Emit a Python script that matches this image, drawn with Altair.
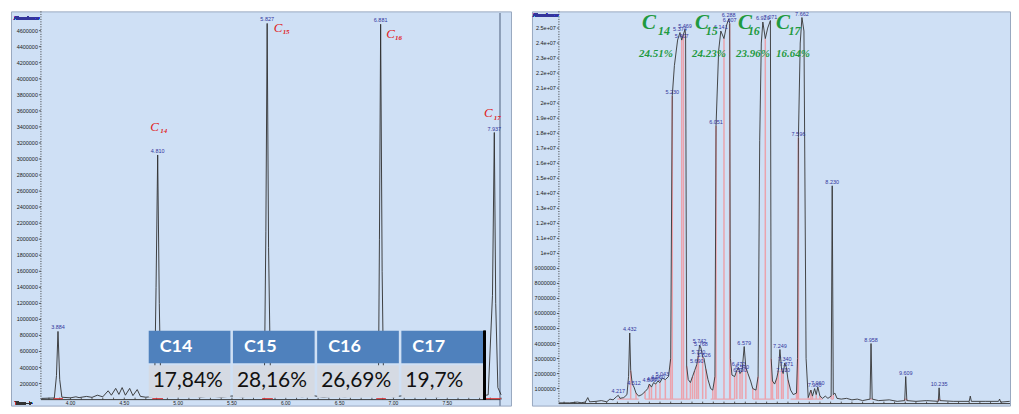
import altair as alt
import pandas as pd

# ======================= LEFT chromatogram =======================
left_time = [3.73, 3.85, 3.87, 3.884, 3.90, 3.92, 4.00, 4.05, 4.08, 4.15, 4.20, 4.25, 4.30,
             4.35, 4.38, 4.42, 4.45, 4.48, 4.51, 4.55, 4.58, 4.62, 4.65, 4.70, 4.78, 4.795,
             4.810, 4.825, 4.84, 4.90, 4.95, 5.00, 5.05, 5.10, 5.15, 5.20, 5.30, 5.40, 5.50,
             5.60, 5.70, 5.80, 5.815, 5.827, 5.84, 5.86, 5.95, 6.05, 6.15, 6.25, 6.35, 6.45,
             6.55, 6.65, 6.75, 6.86, 6.87, 6.881, 6.895, 6.91, 7.00, 7.10, 7.20, 7.30, 7.40,
             7.50, 7.60, 7.70, 7.80, 7.88, 7.92, 7.937, 7.95, 7.97, 8.00]
left_abund = [15000, 20000, 300000, 850000, 250000, 30000, 22000, 35000, 25000, 40000, 28000,
              55000, 35000, 110000, 55000, 140000, 65000, 150000, 55000, 140000, 50000, 125000,
              40000, 30000, 40000, 1400000, 3050000, 1200000, 60000, 40000, 55000, 35000, 50000,
              40000, 55000, 30000, 45000, 30000, 45000, 35000, 50000, 60000, 2100000, 4690000,
              1900000, 60000, 40000, 55000, 35000, 50000, 30000, 45000, 35000, 50000, 40000,
              60000, 2000000, 4680000, 1600000, 50000, 35000, 50000, 40000, 55000, 35000, 45000,
              40000, 50000, 40000, 60000, 1300000, 3330000, 1200000, 150000, 60000]
left_peak_times = [3.884, 4.810, 5.827, 6.881, 7.937]
left_comp_peaks = [4.810, 5.827, 6.881, 7.937]
left_comp_sub = ["14", "15", "16", "17"]
left_red_start = [3.84, 4.76, 5.78, 6.84, 7.86]
left_red_end = [3.93, 4.86, 5.88, 6.93, 8.00]
left_red_level = 12000
left_yticks = list(range(200000, 4600001, 200000))
left_xticks = [round(3.8 + 0.1 * i, 1) for i in range(43)]
left_xlabels = [4.0, 4.5, 5.0, 5.5, 6.0, 6.5, 7.0, 7.5]

table_head = ["C14", "C15", "C16", "C17"]
table_pct = ["17,84%", "28,16%", "26,69%", "19,7%"]

# ======================= RIGHT chromatogram =======================
right_time = [3.10, 3.30, 3.45, 3.52, 3.60, 3.645, 3.68, 3.80, 3.90, 4.00, 4.06, 4.12, 4.18,
              4.217, 4.25, 4.32, 4.38, 4.41, 4.432, 4.45, 4.48, 4.512, 4.55, 4.60, 4.66, 4.72,
              4.77, 4.80, 4.84, 4.88, 4.92, 4.96, 5.00, 5.043, 5.10, 5.16, 5.20, 5.23, 5.27,
              5.33, 5.374, 5.407, 5.44, 5.469, 5.48, 5.50, 5.53, 5.57, 5.61, 5.65, 5.69, 5.72,
              5.742, 5.768, 5.80, 5.826, 5.86, 5.90, 5.95, 5.99, 6.03, 6.051, 6.10, 6.141, 6.20,
              6.25, 6.288, 6.307, 6.32, 6.35, 6.40, 6.44, 6.472, 6.50, 6.54, 6.579, 6.61, 6.65,
              6.70, 6.74, 6.80, 6.84, 6.87, 6.90, 6.929, 6.975, 7.02, 7.071, 7.085, 7.11, 7.15,
              7.19, 7.22, 7.249, 7.28, 7.31, 7.340, 7.371, 7.40, 7.45, 7.50, 7.56, 7.58, 7.596,
              7.63, 7.662, 7.70, 7.74, 7.78, 7.83, 7.86, 7.90, 7.93, 7.96, 8.00, 8.05, 8.10,
              8.15, 8.21, 8.230, 8.25, 8.28, 8.32, 8.40, 8.50, 8.60, 8.70, 8.80, 8.94, 8.958,
              8.98, 9.10, 9.30, 9.45, 9.59, 9.609, 9.63, 9.80, 10.00, 10.22, 10.235, 10.25,
              10.50, 10.80, 10.82, 10.84, 11.10, 11.35, 11.37, 11.39, 11.56]
right_abund_millions = [0.05, 0.05, 0.10, 0.06, 0.10, 0.40, 0.12, 0.15, 0.20, 0.12, 0.30, 0.25,
                        0.45, 0.55, 0.35, 0.40, 0.60, 1.8, 4.7, 2.2, 1.3, 1.1, 0.7, 0.5, 0.6, 0.8,
                        1.0, 1.3, 1.1, 1.4, 1.3, 1.5, 1.4, 1.7, 1.6, 1.8, 3.0, 20.5, 22.5, 24.2,
                        24.7, 24.2, 24.6, 24.9, 24.5, 2.5, 1.6, 1.4, 1.8, 2.2, 2.6, 3.2, 3.9, 3.7,
                        3.1, 3.0, 2.3, 1.6, 1.0, 0.9, 1.8, 18.5, 23.5, 24.8, 24.3, 25.2, 25.6,
                        25.3, 3.0, 1.9, 1.8, 2.2, 2.4, 2.0, 2.2, 3.8, 2.4, 2.0, 1.5, 1.0, 0.9,
                        1.8, 17.5, 24.0, 25.4, 24.3, 25.0, 25.5, 3.0, 1.5, 1.3, 1.7, 2.2, 3.6,
                        2.3, 2.0, 2.7, 2.4, 1.6, 0.9, 0.6, 0.7, 3.0, 17.7, 24.0, 25.7, 24.8, 3.0,
                        0.4, 0.9, 0.5, 1.0, 0.6, 1.1, 0.5, 0.35, 0.5, 0.35, 0.5, 14.5, 0.6, 0.7,
                        0.35, 0.30, 0.35, 0.25, 0.30, 0.20, 0.30, 4.0, 0.30, 0.20, 0.25, 0.15,
                        0.20, 1.8, 0.20, 0.15, 0.20, 0.15, 1.05, 0.20, 0.15, 0.15, 0.50, 0.15,
                        0.15, 0.15, 0.30, 0.10, 0.15]
right_label_times = [4.217, 4.432, 4.512, 4.80, 4.88, 4.96, 5.043, 5.23, 5.374, 5.407, 5.469,
                     5.69, 5.72, 5.742, 5.768, 5.826, 6.051, 6.141, 6.288, 6.307, 6.472, 6.50,
                     6.54, 6.579, 6.929, 7.071, 7.249, 7.31, 7.340, 7.371, 7.596, 7.662, 7.90,
                     7.96, 8.230, 8.958, 9.609, 10.235]
right_pink_times = [4.25, 4.45, 4.55, 4.72, 4.80, 4.84, 4.92, 5.00, 5.10, 5.20, 5.23, 5.407,
                    5.44, 5.50, 5.57, 5.61, 5.65, 5.69, 5.72, 5.80, 5.86, 5.99, 6.03, 6.051,
                    6.20, 6.307, 6.32, 6.40, 6.44, 6.50, 6.54, 6.61, 6.74, 6.80, 6.84, 6.975,
                    7.085, 7.11, 7.19, 7.22, 7.28, 7.31, 7.40, 7.56, 7.58, 7.596, 7.78, 7.83,
                    7.86, 7.93, 8.00, 8.21, 8.25, 8.94, 8.98, 9.59, 9.63, 10.22, 10.25]
right_base_start = [4.20, 4.72, 5.16, 5.95, 6.74, 7.45, 7.78, 8.21, 8.94, 9.59, 10.22]
right_base_end = [4.60, 5.16, 5.57, 6.40, 7.15, 7.86, 8.05, 8.25, 8.98, 9.63, 10.25]
right_base_level = 300000
right_group_anchor = [5.374, 6.141, 6.929, 7.662]
right_group_sub = ["14", "15", "16", "17"]
right_group_pct = ["24.51%", "24.23%", "23.96%", "16.64%"]
right_yticks = [i * 1000000 for i in range(1, 26)]
right_xticks = [round(3.2 + 0.2 * i, 1) for i in range(42)]

assert len(left_time) == len(left_abund)
assert len(right_time) == len(right_abund_millions)

# ----------------------------------------------------------------
dfL = pd.DataFrame({"t": left_time, "v": left_abund})
Lmap = dict(zip(left_time, left_abund))
dfL_lab = pd.DataFrame({"t": left_peak_times, "v": [Lmap[t] for t in left_peak_times],
                        "txt": [f"{t:.3f}" for t in left_peak_times]})
dfL_red = pd.DataFrame({"s": left_red_start, "e": left_red_end, "v": left_red_level})

right_abund = [v * 1e6 for v in right_abund_millions]
dfR = pd.DataFrame({"t": right_time, "v": right_abund})
Rmap = dict(zip(right_time, right_abund))
dfR_lab = pd.DataFrame({"t": right_label_times, "v": [Rmap[t] for t in right_label_times],
                        "txt": [f"{t:.3f}" for t in right_label_times]})
dfR_pink = pd.DataFrame({"t": right_pink_times, "v": [Rmap[t] for t in right_pink_times],
                         "b": right_base_level})
dfR_base = pd.DataFrame({"s": right_base_start, "e": right_base_end, "v": right_base_level})

LW, LH = 501, 395
RW, RH = 479, 395
LX = alt.Scale(domain=[3.4475, 8.092], nice=False, zero=False)
LY = alt.Scale(domain=[-74650, 4840000], nice=False, zero=False)
RX = alt.Scale(domain=[2.598, 11.565], nice=False, zero=False)
RY = alt.Scale(domain=[-133000, 26109000], nice=False, zero=False)

BLUE = "#34369c"
RED = "#e0201c"
GREEN = "#1f9a3f"
AXC = "#3a3a3a"
TICKFONT = "Liberation Sans"


def sci(v):
    if v >= 10000000:
        return f"{v / 10000000:g}e+07"
    return str(v)


def axes_layers(xs, ys, xticks, yticks, ylabels, xlabels, ax_x, ax_y, x_end, y_top):
    """Axis lines, ticks and labels drawn through the panel's own scales."""
    out = []
    dummy = pd.DataFrame({"a": [0]})
    out.append(alt.Chart(dummy).mark_rule(color=AXC, strokeWidth=1, strokeDash=[1, 1.5]).encode(
        x=alt.value(ax_x), y=alt.value(y_top), y2=alt.value(ax_y)))
    out.append(alt.Chart(dummy).mark_rule(color=AXC, strokeWidth=1).encode(
        x=alt.value(ax_x), x2=alt.value(x_end), y=alt.value(ax_y)))
    dyt = pd.DataFrame({"v": yticks, "lab": ylabels})
    out.append(alt.Chart(dyt).mark_rule(color=AXC, strokeWidth=0.8).encode(
        x=alt.value(ax_x - 2), x2=alt.value(ax_x),
        y=alt.Y("v:Q", scale=ys, axis=None)))
    out.append(alt.Chart(dyt).mark_text(align="right", baseline="middle", fontSize=5.5,
                                        font=TICKFONT, color="#222222").encode(
        x=alt.value(ax_x - 3), y=alt.Y("v:Q", scale=ys, axis=None), text="lab:N"))
    dxt = pd.DataFrame({"t": xticks})
    out.append(alt.Chart(dxt).mark_rule(color=AXC, strokeWidth=0.8).encode(
        x=alt.X("t:Q", scale=xs, axis=None), y=alt.value(ax_y - 2), y2=alt.value(ax_y)))
    if xlabels:
        dxl = pd.DataFrame({"t": xlabels, "lab": [f"{t:.2f}" for t in xlabels]})
        out.append(alt.Chart(dxl).mark_text(align="center", baseline="top", fontSize=5,
                                            font=TICKFONT, color="#222222").encode(
            x=alt.X("t:Q", scale=xs, axis=None), y=alt.value(ax_y + 1), text="lab:N"))
    return out


# ---------------- left panel ----------------
trace_L = alt.Chart(dfL).mark_line(color="#2e2e2e", strokeWidth=0.9).encode(
    x=alt.X("t:Q", scale=LX, axis=None),
    y=alt.Y("v:Q", scale=LY, axis=None))
red_L = alt.Chart(dfL_red).mark_rule(color="#e03030", strokeWidth=1).encode(
    x=alt.X("s:Q", scale=LX, axis=None), x2="e:Q",
    y=alt.Y("v:Q", scale=LY, axis=None))
lab_L = alt.Chart(dfL_lab).mark_text(fontSize=5.5, color=BLUE, dy=-2, baseline="alphabetic",
                                      font=TICKFONT).encode(
    x=alt.X("t:Q", scale=LX, axis=None), y=alt.Y("v:Q", scale=LY, axis=None), text="txt:N")

left_layers = [alt.Chart(dfL).mark_rule(color="#8e9fb8", strokeWidth=1).encode(
    x=alt.value(490), y=alt.value(2), y2=alt.value(395))]
left_layers += axes_layers(LX, LY, left_xticks, left_yticks, [str(v) for v in left_yticks],
                           left_xlabels, 30, 389, 490, 0)
left_layers += [red_L, trace_L, lab_L]
c_off = [(-3, -28), (11, 5), (10, 10), (-6, -20)]
s_off = [(6, -24), (19, 9), (18, 14), (3, -15)]
for i, (t, sub) in enumerate(zip(left_comp_peaks, left_comp_sub)):
    d = pd.DataFrame({"t": [t], "v": [Lmap[t]], "c": ["C"], "s": [sub]})
    left_layers.append(alt.Chart(d).mark_text(
        font="Liberation Serif", fontStyle="italic", fontSize=13, color=RED,
        dx=c_off[i][0], dy=c_off[i][1], baseline="middle", align="center").encode(
        x=alt.X("t:Q", scale=LX, axis=None), y=alt.Y("v:Q", scale=LY, axis=None), text="c:N"))
    left_layers.append(alt.Chart(d).mark_text(
        font="Liberation Serif", fontStyle="italic", fontWeight="bold", fontSize=7, color=RED,
        dx=s_off[i][0], dy=s_off[i][1], baseline="middle", align="center").encode(
        x=alt.X("t:Q", scale=LX, axis=None), y=alt.Y("v:Q", scale=LY, axis=None), text="s:N"))

left_layers.append(alt.Chart(dfL).mark_text(text="Abundance", fontSize=5, color=BLUE,
                                            align="left", baseline="middle",
                                            font=TICKFONT).encode(
    x=alt.value(3), y=alt.value(7)))
left_layers.append(alt.Chart(dfL).mark_text(text="Time-->", fontSize=5, color="#333",
                                            align="left", baseline="middle",
                                            font=TICKFONT).encode(
    x=alt.value(4), y=alt.value(392)))
main_L = alt.layer(*left_layers)

# table overlay
TX = alt.Scale(domain=table_head, range=[138, 473], paddingInner=0.03, paddingOuter=0)
TY = alt.Scale(domain=["h", "b"], range=[320, 387], paddingInner=0.06, paddingOuter=0)
df_head = pd.DataFrame({"comp": table_head, "row": "h", "txt": table_head})
df_body = pd.DataFrame({"comp": table_head, "row": "b", "txt": table_pct})
head_rect = alt.Chart(df_head).mark_rect(color="#4f81bd").encode(
    x=alt.X("comp:N", scale=TX, axis=None), y=alt.Y("row:N", scale=TY, axis=None))
body_rect = alt.Chart(df_body).mark_rect(color="#d5dae3").encode(
    x=alt.X("comp:N", scale=TX, axis=None), y=alt.Y("row:N", scale=TY, axis=None))
head_txt = alt.Chart(df_head).mark_text(align="left", baseline="middle", dx=11, font="Lato",
                                        fontWeight="bold", fontSize=18, color="white").encode(
    x=alt.X("comp:N", scale=TX, axis=None, bandPosition=0),
    y=alt.Y("row:N", scale=TY, axis=None), text="txt:N")
body_txt = alt.Chart(df_body).mark_text(align="left", baseline="middle", dx=4, font="Lato",
                                        fontSize=21, color="#111111").encode(
    x=alt.X("comp:N", scale=TX, axis=None, bandPosition=0),
    y=alt.Y("row:N", scale=TY, axis=None), text="txt:N")
bar = alt.Chart(df_head).mark_rule(color="black", strokeWidth=2.5).encode(
    x=alt.value(474.5), y=alt.value(320), y2=alt.value(389))
table = alt.layer(head_rect, body_rect, head_txt, body_txt, bar)

left = alt.layer(main_L, table).resolve_scale(x="independent", y="independent").properties(
    width=LW, height=LH)

# ---------------- right panel ----------------
pink_drop = alt.Chart(dfR_pink).mark_rule(color="#eba3ad", strokeWidth=1.5).encode(
    x=alt.X("t:Q", scale=RX, axis=None), y=alt.Y("v:Q", scale=RY, axis=None), y2="b:Q")
pink_base = alt.Chart(dfR_base).mark_rule(color="#eba3ad", strokeWidth=1.2).encode(
    x=alt.X("s:Q", scale=RX, axis=None), x2="e:Q", y=alt.Y("v:Q", scale=RY, axis=None))
trace_R = alt.Chart(dfR).mark_line(color="#333333", strokeWidth=0.9, clip=True).encode(
    x=alt.X("t:Q", scale=RX, axis=None),
    y=alt.Y("v:Q", scale=RY, axis=None))
lab_R = alt.Chart(dfR_lab).mark_text(fontSize=5.5, color=BLUE, dy=-2, baseline="alphabetic",
                                      font=TICKFONT).encode(
    x=alt.X("t:Q", scale=RX, axis=None), y=alt.Y("v:Q", scale=RY, axis=None), text="txt:N")

right_layers = axes_layers(RX, RY, right_xticks, right_yticks, [sci(v) for v in right_yticks],
                           [], 27, 393, RW, 0)
right_layers += [pink_base, pink_drop, trace_R, lab_R]
gc_dx = [-31, -19, -18, -19]
gs_dx = [-16, -9, -9, -7.5]
gp_dx = [-24, -12, -10, -9]
for i, (t, sub, pct) in enumerate(zip(right_group_anchor, right_group_sub, right_group_pct)):
    d = pd.DataFrame({"t": [t], "c": ["C"], "s": [sub], "p": [pct]})
    right_layers.append(alt.Chart(d).mark_text(
        font="Liberation Serif", fontStyle="italic", fontWeight="bold", fontSize=21, color=GREEN,
        dx=gc_dx[i], baseline="middle", align="center").encode(
        x=alt.X("t:Q", scale=RX, axis=None), y=alt.value(12), text="c:N"))
    right_layers.append(alt.Chart(d).mark_text(
        font="Liberation Serif", fontStyle="italic", fontWeight="bold", fontSize=12, color=GREEN,
        dx=gs_dx[i], baseline="middle", align="center").encode(
        x=alt.X("t:Q", scale=RX, axis=None), y=alt.value(20), text="s:N"))
    right_layers.append(alt.Chart(d).mark_text(
        font="Liberation Serif", fontStyle="italic", fontWeight="bold", fontSize=11, color=GREEN,
        dx=gp_dx[i], baseline="middle", align="center").encode(
        x=alt.X("t:Q", scale=RX, axis=None), y=alt.value(43), text="p:N"))
right_layers.append(alt.Chart(dfR).mark_text(text="Abundance", fontSize=5, color=BLUE,
                                             align="left", baseline="middle",
                                             font=TICKFONT).encode(
    x=alt.value(1), y=alt.value(4)))
right = alt.layer(*right_layers).properties(width=RW, height=RH)

chart = alt.hconcat(left, right, spacing=19).properties(
    padding={"left": 2, "top": 2, "right": 0, "bottom": 0}, background="white"
).configure_view(fill="#cfe0f5", stroke="#98a8c0", strokeWidth=1)

chart.save("out.html", embed_options={"renderer": "svg", "actions": False})
